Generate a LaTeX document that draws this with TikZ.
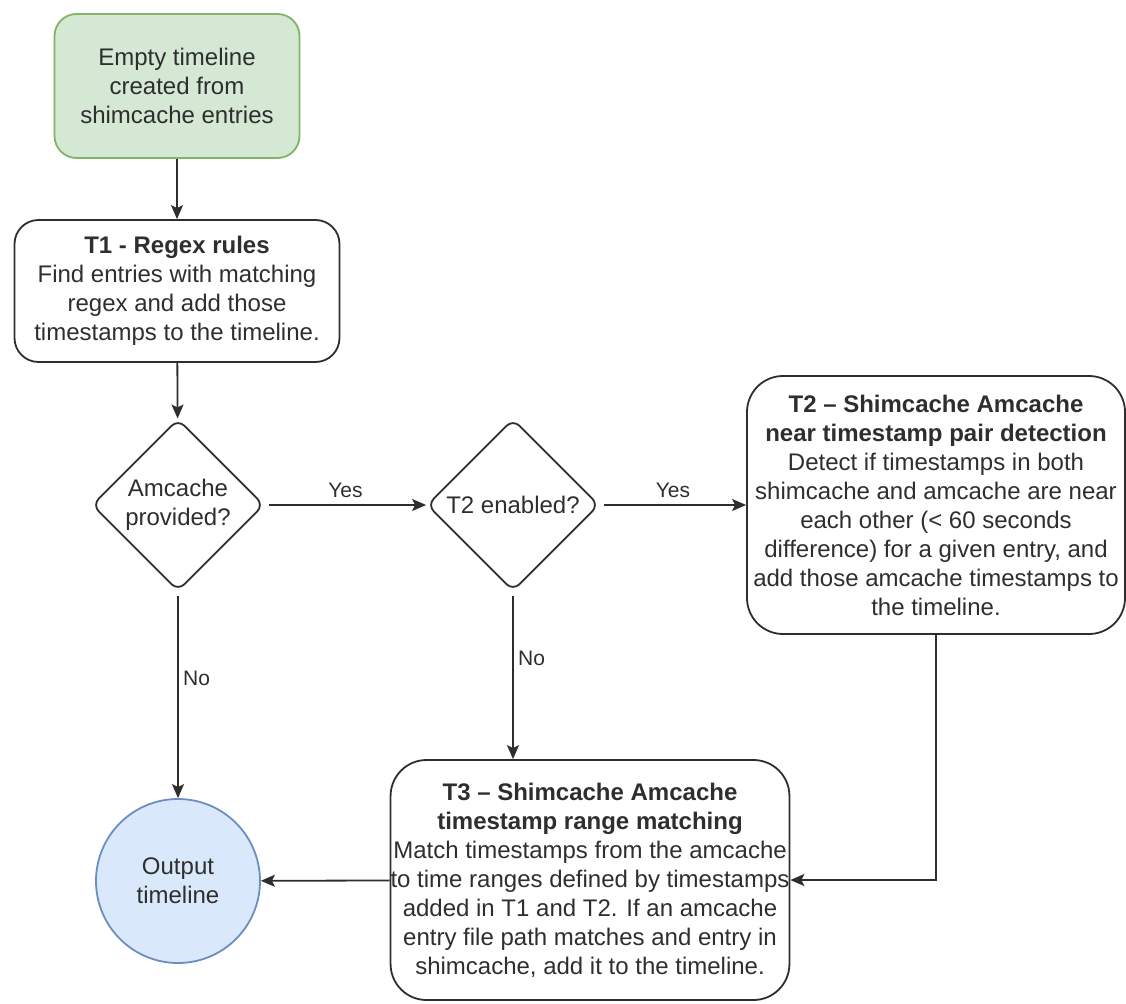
\documentclass[tikz,border=0pt]{standalone}
\usepackage{fontspec}
\setmainfont{Liberation Sans}
\usetikzlibrary{shapes.geometric,arrows.meta}

\definecolor{startfill}{HTML}{D5E8D4}
\definecolor{startline}{HTML}{82B366}
\definecolor{outputfill}{HTML}{DAE8FC}
\definecolor{outputline}{HTML}{6C8EBF}
\definecolor{ink}{HTML}{2E2E2E}

\begin{document}
\begin{tikzpicture}[x=1pt, y=-1pt, line width=1.8pt,
    every node/.style={font=\fontsize{24}{29}\selectfont, text=ink},
    flow/.style={draw=ink, rounded corners=#1, align=center, inner sep=0pt},
    flow/.default=24pt,
    decision/.style={draw=ink, diamond, aspect=1, rounded corners=9pt,
        minimum width=172pt, minimum height=172pt, align=center, inner sep=0pt},
    link/.style={draw=ink, -{Stealth[length=14pt, width=12pt, inset=3pt]}},
    answer/.style={font=\fontsize{21}{24}\selectfont}]

\useasboundingbox (0,0) rectangle (1126,1003);

% Boxes
\node[flow=22pt, fill=startfill, draw=startline, minimum width=245pt, minimum height=144pt]
    (start) at (177,86) {Empty timeline\\created from\\shimcache entries};
\node[flow, minimum width=325pt, minimum height=142pt] (regex) at (177,291)
    {\textbf{T1 - Regex rules}\\Find entries with matching\\regex and add those\\timestamps to the timeline.};
\node[decision] (amcache) at (178,505) {Amcache\\provided?};
\node[decision] (enabled) at (513,505) {T2 enabled?};
\node[flow=36pt, minimum width=378pt, minimum height=258pt] (pairs) at (936,505)
    {\textbf{T2 -- Shimcache Amcache}\\\textbf{near timestamp pair detection}\\Detect if timestamps in both\\shimcache and amcache are near\\each other (< 60 seconds\\difference) for a given entry, and\\add those amcache timestamps to\\the timeline.};
\node[flow=36pt, minimum width=386pt, minimum height=240pt] (ranges) at (590,880)
    {\textbf{T3 -- Shimcache Amcache}\\\textbf{timestamp range matching}\\Match timestamps from the amcache\\to time ranges defined by timestamps\\added in T1 and T2. If an amcache\\entry file path matches and entry in\\shimcache, add it to the timeline.};
\node[circle, draw=outputline, fill=outputfill, minimum size=164pt, inner sep=0pt, align=center]
    (output) at (178,881) {Output\\timeline};

% Arrows
\draw[link] (start) -- (regex);
\draw[link] (regex) -- (amcache);
\draw[link, shorten <=4pt] (amcache) -- node[above=3pt, answer] {Yes} (enabled);
\draw[link, shorten <=4pt] (enabled) -- node[above=3pt, answer] {Yes} (pairs);
\draw[link, shorten <=4pt] (amcache) -- node[pos=0.42, right=1pt, answer] {No} (output);
\draw[link, shorten <=4pt] (enabled.south) -- node[pos=0.4, right=1pt, answer] {No} (enabled.south |- ranges.north);
\draw[link] (pairs.south) |- (ranges.east);
\draw[link] (ranges) -- (output);

\end{tikzpicture}
\end{document}
